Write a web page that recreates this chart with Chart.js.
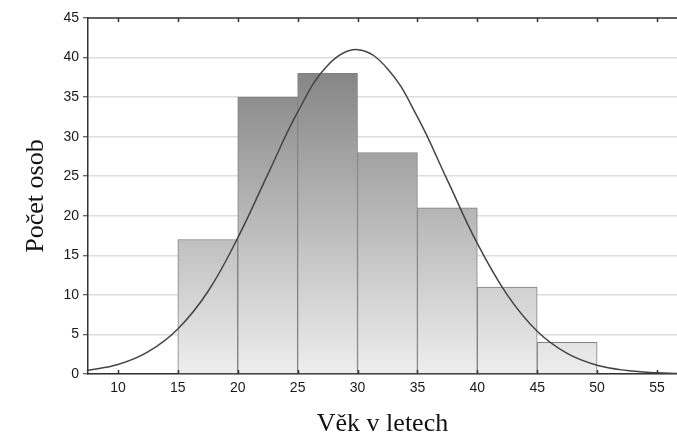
<!DOCTYPE html>
<html>
<head>
<meta charset="utf-8">
<script src="https://cdn.jsdelivr.net/npm/chart.js@4"></script>
<style>
    html, body { margin: 0; padding: 0; background: #ffffff; }
    #wrap { width: 677px; height: 437px; }
</style>
</head>
<body>
<div id="wrap"><canvas id="histChart"></canvas></div>
<script>
// histogram bins (centres, width 5) and counts
const binCenters = [17.5, 22.5, 27.5, 32.5, 37.5, 42.5, 47.5];
const binCounts = [17, 35, 38, 28, 21, 11, 4];

// fitted normal curve
const curveX = [7.5, 10, 12.5, 15, 17.5, 20, 22.5, 25, 27.5, 30, 32.5, 35, 37.5, 40, 42.5, 45, 47.5, 50, 52.5, 55, 56.7];
const curveY = [0.47, 1.2, 2.8, 5.7, 10.4, 17.2, 25.2, 33.1, 39.0, 41.0, 38.6, 32.5, 24.5, 16.5, 10.0, 5.4, 2.6, 1.1, 0.44, 0.15, 0.07];

const xTicks = [10, 15, 20, 25, 30, 35, 40, 45, 50, 55];
const yTicks = [0, 5, 10, 15, 20, 25, 30, 35, 40, 45];

// frame on top + inward tick marks
const framePlugin = {
    id: 'frame',
    afterDatasetsDraw(chart) {
        const { ctx, chartArea, scales } = chart;
        ctx.save();
        ctx.strokeStyle = '#333333';
        ctx.lineWidth = 1.5;
        ctx.beginPath();
        ctx.moveTo(chartArea.left, chartArea.top);
        ctx.lineTo(chartArea.right, chartArea.top);
        ctx.stroke();
        xTicks.forEach(v => {
            const px = Math.round(scales.x.getPixelForValue(v)) + 0.5;
            ctx.beginPath();
            ctx.moveTo(px, chartArea.top);
            ctx.lineTo(px, chartArea.top + 4);
            ctx.moveTo(px, chartArea.bottom);
            ctx.lineTo(px, chartArea.bottom - 4);
            ctx.stroke();
        });
        ctx.restore();
    }
};

function barFill(context) {
    const chart = context.chart;
    const { ctx, chartArea, scales } = chart;
    if (!chartArea) {
        return '#bbbbbb';
    }
    const g = ctx.createLinearGradient(0, scales.y.getPixelForValue(0), 0, scales.y.getPixelForValue(45));
    g.addColorStop(0, '#eeeeee');
    g.addColorStop(1, '#737373');
    return g;
}

function initChart() {
    const ctx = document.getElementById('histChart').getContext('2d');

    new Chart(ctx, {
        data: {
            datasets: [{
                type: 'line',
                data: curveX.map((x, i) => ({ x: x, y: curveY[i] })),
                borderColor: '#444444',
                borderWidth: 1.5,
                pointRadius: 0,
                fill: false,
                tension: 0.4,
                order: 0
            }, {
                type: 'bar',
                data: binCenters.map((x, i) => ({ x: x, y: binCounts[i] })),
                backgroundColor: barFill,
                borderColor: '#808080',
                borderWidth: 1,
                barPercentage: 1,
                categoryPercentage: 1,
                order: 1
            }]
        },
        options: {
            responsive: true,
            maintainAspectRatio: false,
            animation: false,
            layout: { padding: { top: 18, right: 0, left: 0, bottom: 0 } },
            plugins: {
                legend: { display: false },
                tooltip: { enabled: false }
            },
            scales: {
                x: {
                    type: 'linear',
                    offset: false,
                    min: 7.5,
                    max: 56.67,
                    afterBuildTicks: scale => { scale.ticks = xTicks.map(v => ({ value: v })); },
                    afterFit: scale => { scale.height = 63; },
                    grid: { display: false, drawTicks: false },
                    border: { color: '#333333', width: 1.5 },
                    ticks: {
                        color: '#1a1a1a',
                        font: { family: 'Liberation Sans, Arial', size: 14 },
                        padding: 6,
                        maxRotation: 0
                    },
                    title: {
                        display: true,
                        text: 'Věk v letech',
                        color: '#111111',
                        font: { family: 'Liberation Serif, Times New Roman', size: 26, lineHeight: 1 },
                        padding: { top: 0, bottom: 0 }
                    }
                },
                y: {
                    min: 0,
                    max: 45,
                    afterBuildTicks: scale => { scale.ticks = yTicks.map(v => ({ value: v })); },
                    afterFit: scale => { scale.width = 88; },
                    grid: {
                        color: '#dddddd',
                        lineWidth: 1.5,
                        tickColor: '#333333',
                        tickLength: 5,
                        tickWidth: 1
                    },
                    border: { color: '#333333', width: 1.5 },
                    ticks: {
                        color: '#1a1a1a',
                        font: { family: 'Liberation Sans, Arial', size: 14 },
                        padding: 4
                    },
                    title: {
                        display: true,
                        text: 'Počet osob',
                        color: '#111111',
                        font: { family: 'Liberation Serif, Times New Roman', size: 26, lineHeight: 1 },
                        padding: { top: 23, bottom: 0 }
                    }
                }
            }
        },
        plugins: [framePlugin]
    });
}

window.addEventListener('load', initChart);
</script>
</body>
</html>
